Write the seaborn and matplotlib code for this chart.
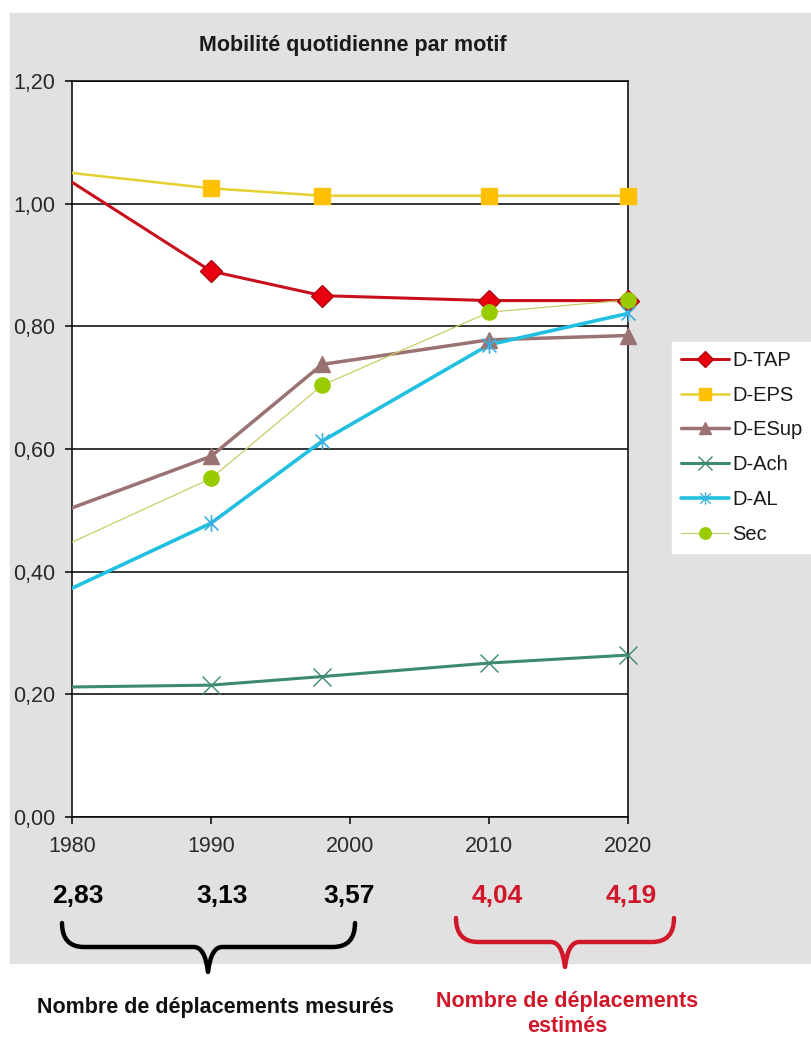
import numpy as np
import pandas as pd
import seaborn as sns
import matplotlib.pyplot as plt
from matplotlib.path import Path
from matplotlib.patches import Rectangle, PathPatch
from matplotlib.lines import Line2D
from matplotlib import transforms
from matplotlib.ticker import FuncFormatter, MultipleLocator

# data
years = [1980, 1990, 1998, 2010, 2020]
d_tap = [1.035, 0.890, 0.850, 0.842, 0.842]
d_eps = [1.050, 1.025, 1.013, 1.013, 1.013]
d_esup = [0.504, 0.588, 0.738, 0.778, 0.785]
d_ach = [0.212, 0.215, 0.229, 0.251, 0.264]
d_al = [0.373, 0.479, 0.613, 0.770, 0.821]
sec = [0.448, 0.552, 0.704, 0.823, 0.843]

trip_years = [1980, 1990, 2000, 2010, 2020]
trips = [2.83, 3.13, 3.57, 4.04, 4.19]
measured = [True, True, True, False, False]

W, H = 811, 1037
RED = "#d0182a"

sns.set_style("ticks")
plt.rcParams["font.family"] = ["Liberation Sans", "DejaVu Sans"]

fig = plt.figure(figsize=(W / 100, H / 100), dpi=100)
fig.patch.set_facecolor("white")


def px(x, y):
    return (x / W, 1 - y / H)


# grey chart area
fig.patches.append(Rectangle(px(10, 963), (W - 10) / W, (963 - 13) / H,
                             transform=fig.transFigure, color="#e1e1e1", zorder=-10))

ax = fig.add_axes([72 / W, 1 - 817 / H, (628 - 72) / W, (817 - 81) / H])
ax.set_facecolor("white")

# custom asterisk marker like the spreadsheet "star"
star = Path([(-1, -1), (1, 1), (-1, 1), (1, -1), (0, -1.2), (0, 1.2)],
            [Path.MOVETO, Path.LINETO] * 3)

series = [
    ("D-TAP", d_tap, "#c8101c", "D", "#e80010", "#b0000c", 2.2, 11, 1.0),
    ("D-EPS", d_eps, "#e6d030", "s", "#ffc000", "#ffc000", 1.8, 11.5, 1.0),
    ("D-ESup", d_esup, "#9b7272", "^", "#9b7272", "#9b7272", 2.5, 12, 1.0),
    ("D-Ach", d_ach, "#3d8a6e", "x", "#3d8a6e", "#3d8a6e", 2.2, 13, 1.0),
    ("D-AL", d_al, "#22c0e0", star, "#3ab0e0", "#3ab0e0", 2.6, 12, 1.2),
    ("Sec", sec, "#c8cc66", "o", "#99cc00", "#99cc00", 0.9, 11, 1.0),
]

df = pd.DataFrame({"year": years})
handles = []
for name, vals, lc, mk, mfc, mec, lw, ms, mew in series:
    df[name] = vals
    sns.lineplot(data=df, x="year", y=name, ax=ax, color=lc, linewidth=lw,
                 zorder=3, legend=False)
    ax.plot(df["year"][1:], df[name][1:], linestyle="none", marker=mk,
            markersize=ms, markerfacecolor=mfc, markeredgecolor=mec,
            markeredgewidth=mew, zorder=4, clip_on=False)
    handles.append(Line2D([0], [0], color=lc, linewidth=lw, marker=mk,
                          markersize=ms * 0.75, markerfacecolor=mfc,
                          markeredgecolor=mec, label=name))

ax.set_xlim(1980, 2020)
ax.set_ylim(0, 1.2)
ax.xaxis.set_major_locator(MultipleLocator(10))
ax.yaxis.set_major_locator(MultipleLocator(0.2))
ax.yaxis.set_major_formatter(FuncFormatter(lambda v, p: f"{v:.2f}".replace(".", ",")))
ax.set_xlabel("")
ax.set_ylabel("")
ax.grid(axis="y", color="black", linewidth=1.1)
ax.set_axisbelow(True)
for s in ax.spines.values():
    s.set_color("black")
    s.set_linewidth(1.1)
ax.tick_params(axis="both", direction="out", length=5, width=1.1, color="black",
               labelsize=15.5, labelcolor="#2a2a2a")
ax.tick_params(axis="x", pad=9)
ax.tick_params(axis="y", pad=7)

leg = fig.legend(handles=handles, loc="upper left", bbox_to_anchor=px(672, 342),
                 frameon=True, fancybox=False, framealpha=1, fontsize=14.5,
                 handlelength=2.4, handletextpad=0.15, labelspacing=0.78,
                 borderpad=0.45, borderaxespad=0)
leg.get_frame().set_facecolor("white")
leg.get_frame().set_edgecolor("white")
for t in leg.get_texts():
    t.set_color("#1a1a1a")

fig.text(*px(353, 45), "Mobilité quotidienne par motif", ha="center", va="center",
         fontsize=15.5, fontweight="bold", color="#1a1a1a")

# trip counts under the axis
shift = [0.45, 0.8, -0.05, 0.6, 0.2]
tr = transforms.blended_transform_factory(ax.transData, fig.transFigure)
for yr, v, m, dx in zip(trip_years, trips, measured, shift):
    ax.text(yr + dx, 1 - 896 / H, f"{v:.2f}".replace(".", ","), transform=tr,
            ha="center", va="center", fontsize=19, fontweight="bold",
            color="black" if m else RED, clip_on=False)


def brace(x0, x1, xc, top, hy, tip, color):
    r = 22
    verts = [px(x0, top), px(x0, hy), px(x0 + r, hy),
             px(xc - 14, hy), px(xc - 3, hy), px(xc, tip),
             px(xc + 3, hy), px(xc + 14, hy),
             px(x1 - r, hy), px(x1, hy), px(x1, top)]
    codes = [Path.MOVETO, Path.CURVE3, Path.CURVE3,
             Path.LINETO, Path.CURVE3, Path.CURVE3,
             Path.CURVE3, Path.CURVE3,
             Path.LINETO, Path.CURVE3, Path.CURVE3]
    fig.patches.append(PathPatch(Path(verts, codes), transform=fig.transFigure,
                                 fill=False, edgecolor=color, linewidth=3.2,
                                 capstyle="round", joinstyle="round", zorder=2))


brace(62, 355, 208, 923, 947, 972, "black")
brace(456, 674, 565, 918, 942, 967, RED)

fig.text(*px(215, 1008), "Nombre de déplacements mesurés", ha="center", va="center",
         fontsize=15.5, fontweight="bold", color="#111111")
fig.text(*px(567, 1014), "Nombre de déplacements\nestimés", ha="center", va="center",
         fontsize=15.5, fontweight="bold", color=RED, linespacing=1.3)

fig.savefig("out.png", dpi=100, facecolor="white")
